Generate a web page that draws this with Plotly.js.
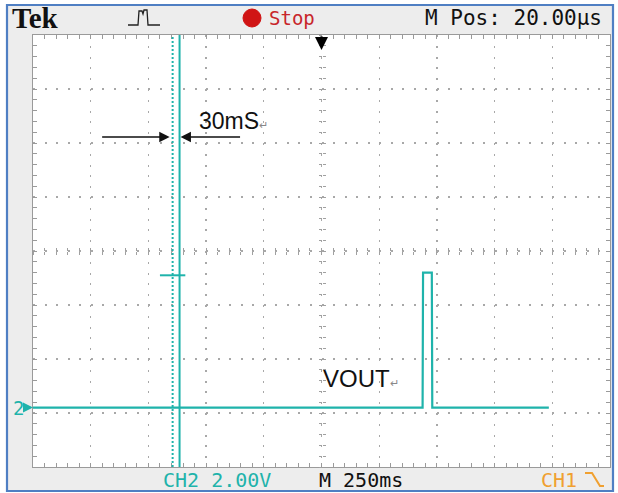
<!DOCTYPE html>
<html>
<head>
<meta charset="utf-8">
<script src="https://cdn.plot.ly/plotly-3.0.1.min.js"></script>
<style>html,body{margin:0;padding:0;background:#fff;}#chart{width:618px;height:493px;}</style>
</head>
<body>
<div id="chart"></div>
<script>
// ---- data (time in ms, CH2 volts) ----
var timeMs = [0, 1688, 1690, 1728, 1730, 2235];
var volts  = [0, 0, 5, 5, 0, 0];
var cursorA = 605;   // dotted cursor (ms)
var cursorB = 635;   // solid cursor (ms), 30 ms apart
var levelMarkX = [550, 660];
var levelMarkY = [4.9, 4.9];
var triggerPosMs = 1250;
var xRange = [0, 2500];      // 10 div x 250 ms
var yRange = [-2.2, 13.8];   // 8 div x 2.00 V
var headerLabels = ["Tek", "Stop", "M Pos: 20.00\u00b5s"];
var footerLabels = ["CH2 2.00V", "M 250ms", "CH1"];

var TEAL = "#1fb3ab";
var W = 618, H = 493, L = 33, R = 8, T = 35, B = 26;
var PW = W - L - R, PH = H - T - B;
function px(x) { return (x - L) / PW; }
function py(y) { return (H - B - y) / PH; }

var mono = "DejaVu Sans Mono, Liberation Mono, monospace";

var traces = [
  {x: timeMs, y: volts, type: "scatter", mode: "lines",
   line: {color: TEAL, width: 2.2}, hoverinfo: "skip", showlegend: false},
  {x: levelMarkX, y: levelMarkY, type: "scatter", mode: "lines",
   line: {color: TEAL, width: 2}, hoverinfo: "skip", showlegend: false},
  {x: [], y: [], xaxis: "x2", yaxis: "y", showlegend: false},
  {x: [], y: [], xaxis: "x3", yaxis: "y", showlegend: false},
  {x: [], y: [], xaxis: "x", yaxis: "y2", showlegend: false},
  {x: [], y: [], xaxis: "x", yaxis: "y3", showlegend: false}
];

var edge = "#9a9a9a";
var centerAxisX = function (dir) {
  return {overlaying: "x", anchor: "free", position: 0.5, range: xRange,
    showgrid: false, zeroline: false, showline: false, showticklabels: false,
    ticks: dir, ticklen: 3, tickcolor: "#a0a0a0", dtick: 50, tick0: 0, fixedrange: true};
};
var centerAxisY = function (dir) {
  return {overlaying: "y", anchor: "free", position: 0.5, range: yRange,
    showgrid: false, zeroline: false, showline: false, showticklabels: false,
    ticks: dir, ticklen: 3, tickcolor: "#a0a0a0", dtick: 0.4, tick0: yRange[0], fixedrange: true};
};

var layout = {
  width: W, height: H,
  margin: {l: L, r: R, t: T, b: B, pad: 0},
  paper_bgcolor: "#ffffff", plot_bgcolor: "#ffffff",
  showlegend: false,
  xaxis: {range: xRange, dtick: 250, tick0: 0, showgrid: true, gridcolor: "#a8a8a8",
    gridwidth: 1.3, griddash: "2px,8.8px", zeroline: false, showticklabels: false,
    ticks: "inside", ticklen: 4, tickcolor: edge, showline: true, linecolor: edge,
    linewidth: 1, mirror: "allticks", fixedrange: true,
    minor: {dtick: 50, tick0: 0, ticks: "inside", ticklen: 4, tickcolor: edge, showgrid: false}},
  yaxis: {range: yRange, dtick: 2, tick0: yRange[0], showgrid: true, gridcolor: "#a8a8a8",
    gridwidth: 1.3, griddash: "2px,9.54px", zeroline: false, showticklabels: false,
    ticks: "inside", ticklen: 4, tickcolor: edge, showline: true, linecolor: edge,
    linewidth: 1, mirror: "allticks", fixedrange: true,
    minor: {dtick: 0.4, tick0: yRange[0], ticks: "inside", ticklen: 4, tickcolor: edge, showgrid: false}},
  xaxis2: centerAxisX("inside"),
  xaxis3: centerAxisX("outside"),
  yaxis2: centerAxisY("inside"),
  yaxis3: centerAxisY("outside"),
  shapes: [
    {type: "rect", xref: "paper", yref: "paper", x0: px(7), x1: px(613), y0: py(491), y1: py(5),
     fillcolor: "#ededed", line: {color: "#4f7fc3", width: 2.2}, layer: "below"},
    {type: "rect", xref: "paper", yref: "paper", x0: 0, x1: 1, y0: 0, y1: 1,
     fillcolor: "#ffffff", line: {width: 0}, layer: "below"},
    {type: "line", xref: "x", yref: "paper", x0: cursorA, x1: cursorA, y0: 0, y1: 1,
     line: {color: TEAL, width: 2, dash: "2px,2px"}},
    {type: "line", xref: "x", yref: "paper", x0: cursorB, x1: cursorB, y0: 0, y1: 1,
     line: {color: TEAL, width: 2}},
    // stop indicator
    {type: "circle", xref: "paper", yref: "paper", xsizemode: "pixel", ysizemode: "pixel",
     xanchor: px(252), yanchor: py(18), x0: -9, x1: 9, y0: -9, y1: 9,
     fillcolor: "#d01414", line: {color: "#d01414", width: 1}},
    // acquisition icon
    {type: "path", xref: "paper", yref: "paper",
     path: "M" + px(128) + "," + py(25) + " L" + px(138) + "," + py(25) + " L" + px(139) + "," + py(11) +
           " L" + px(142) + "," + py(11) + " L" + px(143) + "," + py(14) + " L" + px(144) + "," + py(10) +
           " L" + px(147) + "," + py(10) + " L" + px(148) + "," + py(25) + " L" + px(160) + "," + py(25),
     line: {color: "#222", width: 1.3}},
    // falling-edge icon
    {type: "path", xref: "paper", yref: "paper",
     path: "M" + px(585) + "," + py(473) + " L" + px(592) + "," + py(473) + " L" + px(600) + "," + py(486) +
           " L" + px(604) + "," + py(486),
     line: {color: "#f0a030", width: 2}}
  ],
  annotations: [
    {text: "<b>" + headerLabels[0] + "</b>", xref: "paper", yref: "paper", x: px(10), y: py(18),
     xanchor: "left", yanchor: "middle", showarrow: false,
     font: {family: "Liberation Serif, DejaVu Serif, serif", size: 29, color: "#111"}},
    {text: headerLabels[1], xref: "paper", yref: "paper", x: px(267), y: py(18),
     xanchor: "left", yanchor: "middle", showarrow: false,
     font: {family: mono, size: 19, color: "#c8262b"}},
    {text: headerLabels[2], xref: "paper", yref: "paper", x: px(423), y: py(18),
     xanchor: "left", yanchor: "middle", showarrow: false,
     font: {family: mono, size: 21, color: "#111"}},
    {text: footerLabels[0], xref: "paper", yref: "paper", x: px(161), y: py(480),
     xanchor: "left", yanchor: "middle", showarrow: false,
     font: {family: mono, size: 20, color: TEAL}},
    {text: footerLabels[1], xref: "paper", yref: "paper", x: px(317), y: py(480),
     xanchor: "left", yanchor: "middle", showarrow: false,
     font: {family: mono, size: 20, color: "#111"}},
    {text: footerLabels[2], xref: "paper", yref: "paper", x: px(539), y: py(480),
     xanchor: "left", yanchor: "middle", showarrow: false,
     font: {family: mono, size: 20, color: "#f0a030"}},
    // ground marker
    {text: "2", xref: "paper", yref: "y", x: px(11), y: 0, xanchor: "left", yanchor: "middle",
     showarrow: false, font: {family: mono, size: 19, color: TEAL}},
    {text: "", xref: "paper", yref: "y", x: 0, y: 0, ax: -8, ay: 0, showarrow: true,
     arrowhead: 2, arrowsize: 1, arrowwidth: 2, arrowcolor: TEAL},
    // trigger position arrow
    {text: "", xref: "x", yref: "paper", x: triggerPosMs, y: py(50), ax: 0, ay: -15, showarrow: true,
     arrowhead: 2, arrowsize: 1, arrowwidth: 2.6, arrowcolor: "#000"},
    // 30mS measurement
    {text: "30mS<span style='font-size:11px;color:#888'>\u21b5</span>", xref: "paper", yref: "paper",
     x: px(197), y: py(121), xanchor: "left", yanchor: "middle", showarrow: false,
     font: {family: "Liberation Sans, Arial, sans-serif", size: 23, color: "#111"}},
    {text: "", xref: "x", yref: "paper", x: cursorA, y: py(137), ax: -72, ay: 0, showarrow: true,
     arrowhead: 2, arrowsize: 1.3, arrowwidth: 1.6, arrowcolor: "#111", standoff: 3},
    {text: "", xref: "x", yref: "paper", x: cursorB, y: py(137), ax: 62, ay: 0, showarrow: true,
     arrowhead: 2, arrowsize: 1.3, arrowwidth: 1.6, arrowcolor: "#111", standoff: 1},
    {text: "VOUT<span style='font-size:11px;color:#888'>\u21b5</span>", xref: "paper", yref: "paper",
     x: px(321), y: py(378), xanchor: "left", yanchor: "middle", showarrow: false,
     font: {family: "Liberation Sans, Arial, sans-serif", size: 24, color: "#111"}}
  ]
};

Plotly.newPlot("chart", traces, layout, {displayModeBar: false, staticPlot: true});
</script>
</body>
</html>
